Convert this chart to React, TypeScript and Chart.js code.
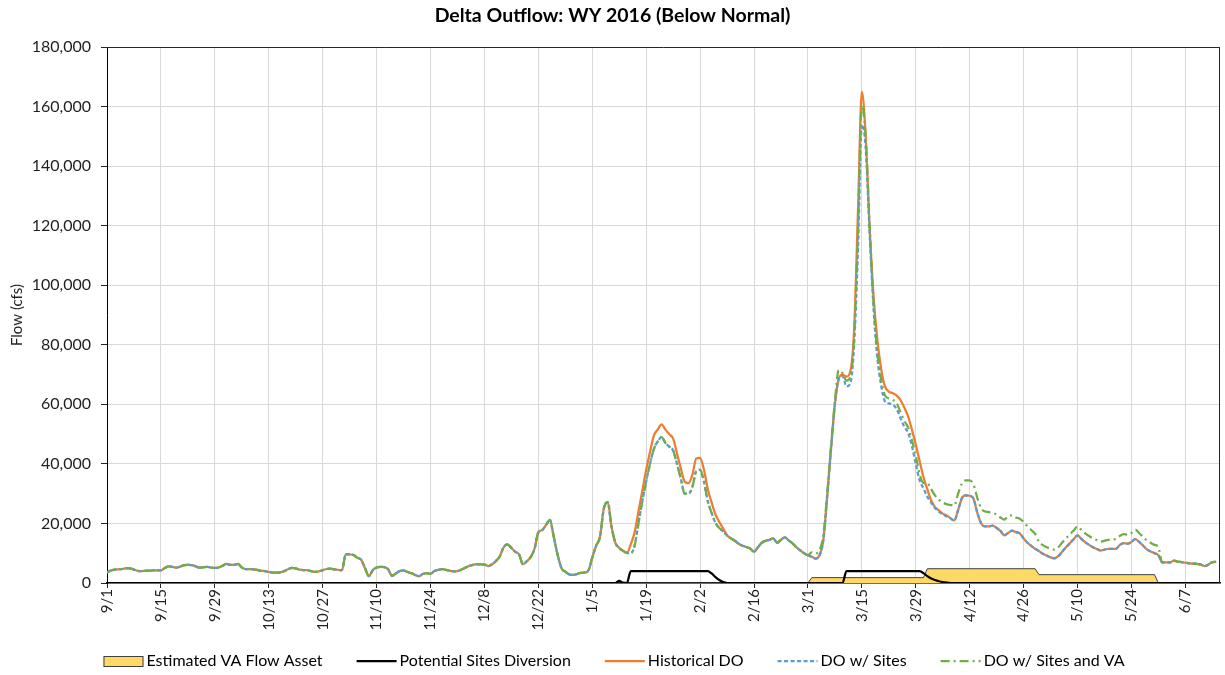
import React, { useEffect, useRef } from "react";
import { Chart, registerables } from "chart.js";

Chart.register(...registerables);

const chartTitle = "Delta Outflow: WY 2016 (Below Normal)";
const yAxisTitle = "Flow (cfs)";
const xTickLabels = ["9/1", "9/15", "9/29", "10/13", "10/27", "11/10", "11/24", "12/8", "12/22", "1/5", "1/19", "2/2", "2/16", "3/1", "3/15", "3/29", "4/12", "4/26", "5/10", "5/24", "6/7"];
const tickStepDays = 14;
const lastAxisDay = 289;
const yMax = 180000;
const yStep = 20000;

const seriesNames = ["Estimated VA Flow Asset", "Potential Sites Diversion", "Historical DO", "DO w/ Sites", "DO w/ Sites and VA"];

// daily values, day 0 = 9/1/2015
const historicalDO = [
  3500, 4200, 4500, 4600, 4700, 5000, 4900, 4500, 4100, 4000,
  4100, 4150, 4200, 4200, 4250, 5000, 5600, 5400, 5150, 5500,
  6000, 6050, 6000, 5600, 5150, 5300, 5400, 5200, 5050, 5200,
  5800, 6400, 6100, 6100, 6400, 5200, 4700, 4700, 4600, 4400,
  4100, 4000, 3700, 3500, 3500, 3600, 4000, 4600, 5050, 4900,
  4500, 4350, 4300, 4000, 3700, 3900, 4300, 4700, 4800, 4600,
  4400, 4300, 9700, 9600, 9400, 8500, 7800, 5000, 2300, 4300,
  5200, 5400, 5300, 4600, 2400, 3200, 4000, 4200, 3700, 3300,
  2700, 2300, 3000, 3300, 3100, 4000, 4400, 4700, 4400, 4100,
  3900, 4000, 4500, 5100, 5700, 6100, 6300, 6250, 6200, 5700,
  6300, 7400, 9000, 12000, 13000, 11800, 10500, 9600, 6300, 7300,
  8700, 11500, 17000, 17800, 19500, 21200, 15500, 9500, 5000, 3800,
  2900, 2700, 3000, 3400, 3500, 4200, 8500, 12500, 15500, 25000,
  27200, 19000, 13500, 11800, 10800, 10100, 13000, 17000, 24000, 31000,
  38000, 44000, 49500, 51500, 53300, 51500, 50000, 48500, 43500, 38500,
  34000, 33500, 36300, 41800, 42000, 38000, 31500, 27000, 23000, 20500,
  18300, 16000, 15000, 14200, 13200, 12500, 12100, 11600, 10500, 12000,
  13500, 14200, 14500, 15000, 13500, 14500, 15300, 14300, 13300, 12000,
  11000, 10000, 9300, 8800, 8200, 9300, 14400, 29000, 45000, 60000,
  68500, 70000, 69300, 71000, 85000, 125000, 165000, 150000, 120000, 97000,
  82000, 72000, 66000, 64300, 63800, 63000, 61500, 59000, 56000, 51500,
  46500, 41000, 35600, 31500, 27800, 25500, 24400, 23300, 22700, 21800,
  21000, 24500, 28500, 29400, 29300, 28300, 23500, 20000, 19000, 19000,
  19300, 18500, 17500, 16000, 16800, 17600, 17100, 16700, 15000, 13500,
  12500, 11500, 10700, 9800, 9200, 8600, 8300, 9000, 10500, 12000,
  13300, 14700, 16000, 14800, 13700, 12800, 12000, 11400, 10900, 11200,
  11500, 11500, 11500, 12800, 13400, 13200, 13800, 14700, 13800, 12600,
  11300, 10600, 10000, 9300, 6900, 6900, 6900, 7500, 7200, 7000,
  6800, 6600, 6500, 6400, 6200, 5700, 6200, 7000, 7100,
];

const doWithSites = [
  3500, 4200, 4500, 4600, 4700, 5000, 4900, 4500, 4100, 4000,
  4100, 4150, 4200, 4200, 4250, 5000, 5600, 5400, 5150, 5500,
  6000, 6050, 6000, 5600, 5150, 5300, 5400, 5200, 5050, 5200,
  5800, 6400, 6100, 6100, 6400, 5200, 4700, 4700, 4600, 4400,
  4100, 4000, 3700, 3500, 3500, 3600, 4000, 4600, 5050, 4900,
  4500, 4350, 4300, 4000, 3700, 3900, 4300, 4700, 4800, 4600,
  4400, 4300, 9700, 9600, 9400, 8500, 7800, 5000, 2300, 4300,
  5200, 5400, 5300, 4600, 2400, 3200, 4000, 4200, 3700, 3300,
  2700, 2300, 3000, 3300, 3100, 4000, 4400, 4700, 4400, 4100,
  3900, 4000, 4500, 5100, 5700, 6100, 6300, 6250, 6200, 5700,
  6300, 7400, 9000, 12000, 13000, 11800, 10500, 9600, 6300, 7300,
  8700, 11500, 17000, 17800, 19500, 21200, 15500, 9500, 5000, 3800,
  2900, 2700, 3000, 3400, 3500, 4200, 8500, 12500, 15500, 25000,
  27200, 19000, 13500, 11800, 10800, 10100, 10000, 12500, 20000, 27500,
  34000, 40000, 45000, 47500, 49000, 47000, 45800, 44500, 40000, 35000,
  30000, 30000, 32300, 37500, 38000, 34000, 27500, 23500, 20200, 18500,
  17300, 16000, 15000, 14200, 13200, 12500, 12100, 11600, 10500, 12000,
  13500, 14200, 14500, 15000, 13500, 14500, 15300, 14300, 13300, 12000,
  11000, 10000, 9300, 8800, 8200, 9300, 14400, 29000, 45000, 60000,
  68500, 69500, 66000, 67000, 80000, 112000, 154000, 146000, 118000, 93000,
  76000, 66500, 61000, 60300, 59900, 58500, 55500, 52500, 50500, 46000,
  40000, 34500, 31800, 29000, 27000, 25200, 24000, 23100, 22400, 21700,
  21000, 24500, 28500, 29400, 29300, 28300, 23500, 20000, 19000, 19000,
  19300, 18500, 17500, 16000, 16800, 17600, 17100, 16700, 15000, 13500,
  12500, 11500, 10700, 9800, 9200, 8600, 8300, 9000, 10500, 12000,
  13300, 14700, 16000, 14800, 13700, 12800, 12000, 11400, 10900, 11200,
  11500, 11500, 11500, 12800, 13400, 13200, 13800, 14700, 13800, 12600,
  11300, 10600, 10000, 9300, 6900, 6900, 6900, 7500, 7200, 7000,
  6800, 6600, 6500, 6400, 6200, 5700, 6200, 7000, 7100,
];

const doWithSitesAndVA = [
  3500, 4200, 4500, 4600, 4700, 5000, 4900, 4500, 4100, 4000,
  4100, 4150, 4200, 4200, 4250, 5000, 5600, 5400, 5150, 5500,
  6000, 6050, 6000, 5600, 5150, 5300, 5400, 5200, 5050, 5200,
  5800, 6400, 6100, 6100, 6400, 5200, 4700, 4700, 4600, 4400,
  4100, 4000, 3700, 3500, 3500, 3600, 4000, 4600, 5050, 4900,
  4500, 4350, 4300, 4000, 3700, 3900, 4300, 4700, 4800, 4600,
  4400, 4300, 9700, 9600, 9400, 8500, 7800, 5000, 2300, 4300,
  5200, 5400, 5300, 4600, 2400, 3200, 4000, 4200, 3700, 3300,
  2700, 2300, 3000, 3300, 3100, 4000, 4400, 4700, 4400, 4100,
  3900, 4000, 4500, 5100, 5700, 6100, 6300, 6250, 6200, 5700,
  6300, 7400, 9000, 12000, 13000, 11800, 10500, 9600, 6300, 7300,
  8700, 11500, 17000, 17800, 19500, 21200, 15500, 9500, 5000, 3800,
  2900, 2700, 3000, 3400, 3500, 4200, 8500, 12500, 15500, 25000,
  27200, 19000, 13500, 11800, 10800, 10100, 10000, 12500, 20000, 27500,
  34000, 40000, 45000, 47500, 49000, 47000, 45800, 44500, 40000, 35000,
  30000, 30000, 32300, 37500, 38000, 34000, 27500, 23500, 20200, 18500,
  17300, 16000, 15000, 14200, 13200, 12500, 12100, 11600, 10500, 12000,
  13500, 14200, 14500, 15000, 13500, 14500, 15300, 14300, 13300, 12000,
  11000, 10000, 9300, 10300, 10000, 11000, 16000, 30000, 46000, 61000,
  71500, 70500, 68000, 69000, 83000, 118000, 160500, 150000, 121000, 95000,
  78000, 68500, 63000, 62000, 61500, 60500, 57500, 54500, 52300, 48000,
  42800, 36500, 33600, 33500, 31500, 29400, 28000, 27000, 26500, 26200,
  26000, 30000, 33500, 34500, 34500, 33000, 28500, 25000, 24000, 23800,
  23500, 23000, 22000, 21300, 22500, 22700, 22000, 21600, 20500, 19000,
  17800, 16500, 13800, 12700, 12000, 11500, 11200, 12000, 13500, 15000,
  16300, 17600, 19000, 17800, 16700, 15800, 15000, 14400, 13900, 14200,
  14500, 14600, 14800, 15800, 16400, 16200, 16800, 17900, 16800, 15500,
  14300, 13500, 12800, 12000, 6900, 6900, 6900, 7500, 7200, 7000,
  6800, 6600, 6500, 6400, 6200, 5700, 6200, 7000, 7100,
];

// sparse series: day index and value at each break point
const diversionDays = [0, 132, 133, 134, 135, 136, 156, 157, 158, 159, 160, 161, 191, 192, 211, 212, 213, 214, 215, 216, 217, 218, 219, 288];
const diversionValues = [0, 0, 700, 100, 0, 4000, 4000, 3200, 2000, 1000, 300, 0, 0, 4000, 4000, 3300, 2300, 1500, 1000, 600, 300, 100, 0, 0];

const vaDays = [0, 182, 183, 212, 213, 241, 242, 272, 273, 288];
const vaValues = [0, 0, 1800, 1800, 4800, 4800, 2800, 2800, 0, 0];

const FONT = "Lato, 'Open Sans', 'DejaVu Sans', sans-serif";
const TEXT = "#1f1f1f";

const daily = (vals: number[]) => vals.map((v, i) => ({ x: i, y: v }));
const paired = (days: number[], vals: number[]) => days.map((d, i) => ({ x: d, y: vals[i] }));
const isLabelDay = (v: number) => Math.abs(v / tickStepDays - Math.round(v / tickStepDays)) < 1e-6;

const decorPlugin = {
  id: "decor",
  beforeDatasetsDraw(chart: any) {
    const { ctx, chartArea } = chart;
    ctx.save();
    ctx.strokeStyle = "#262626";
    ctx.lineWidth = 1;
    ctx.beginPath();
    ctx.moveTo(chartArea.left, Math.round(chartArea.top) + 0.5);
    ctx.lineTo(chartArea.right, Math.round(chartArea.top) + 0.5);
    ctx.moveTo(Math.round(chartArea.right) - 0.5, chartArea.top);
    ctx.lineTo(Math.round(chartArea.right) - 0.5, chartArea.bottom);
    ctx.stroke();
    ctx.restore();
  },
  afterDraw(chart: any) {
    const { ctx } = chart;
    ctx.save();
    ctx.fillStyle = "#000";
    ctx.font = `bold 19.5px ${FONT}`;
    ctx.textAlign = "center";
    ctx.textBaseline = "middle";
    ctx.fillText(chartTitle, chart.width / 2, 16);

    // legend
    ctx.font = `16px ${FONT}`;
    const swatchW = 40;
    const textGap = 3;
    const itemGap = 34;
    const ds = chart.data.datasets;
    const widths = ds.map((d: any) => swatchW + textGap + ctx.measureText(d.label).width);
    const total = widths.reduce((a: number, b: number) => a + b, 0) + itemGap * (ds.length - 1);
    let x = 614 - total / 2;
    const y = 661;
    ds.forEach((d: any, i: number) => {
      if (d.fill) {
        ctx.fillStyle = d.backgroundColor;
        ctx.fillRect(x, y - 5, swatchW, 11);
        ctx.strokeStyle = d.borderColor;
        ctx.lineWidth = 1;
        ctx.setLineDash([]);
        ctx.strokeRect(x + 0.5, y - 4.5, swatchW - 1, 10);
      } else {
        ctx.strokeStyle = d.borderColor;
        ctx.lineWidth = d.borderWidth;
        ctx.setLineDash(d.borderDash || []);
        ctx.beginPath();
        ctx.moveTo(x, y);
        ctx.lineTo(x + swatchW, y);
        ctx.stroke();
        ctx.setLineDash([]);
      }
      ctx.fillStyle = "#000";
      ctx.textAlign = "left";
      ctx.fillText(d.label, x + swatchW + textGap, y);
      x += widths[i] + itemGap;
    });
    ctx.restore();
  },
};

export default function App() {
  const canvasRef = useRef<HTMLCanvasElement | null>(null);

  useEffect(() => {
    document.body.style.margin = "0";
    const canvas = canvasRef.current;
    if (!canvas) return;
    const lineBase = {
      type: "line" as const,
      fill: false,
      pointRadius: 0,
      pointHoverRadius: 0,
      borderWidth: 2.25,
      cubicInterpolationMode: "monotone" as const,
    };
    const chart = new Chart(canvas, {
      type: "line",
      data: {
        datasets: [
          {
            label: seriesNames[0],
            data: paired(vaDays, vaValues),
            type: "line",
            fill: "origin",
            backgroundColor: "#FFD966",
            borderColor: "#404040",
            borderWidth: 1,
            pointRadius: 0,
            tension: 0,
            order: 4,
          },
          {
            ...lineBase,
            label: seriesNames[1],
            data: paired(diversionDays, diversionValues),
            borderColor: "#000000",
            backgroundColor: "#000000",
            order: 3,
          },
          {
            ...lineBase,
            label: seriesNames[2],
            data: daily(historicalDO),
            borderColor: "#ED7D31",
            backgroundColor: "#ED7D31",
            order: 2,
          },
          {
            ...lineBase,
            label: seriesNames[3],
            data: daily(doWithSites),
            borderColor: "#5B9BD5",
            backgroundColor: "#5B9BD5",
            borderDash: [4, 2.5],
            order: 1,
          },
          {
            ...lineBase,
            label: seriesNames[4],
            data: daily(doWithSitesAndVA),
            borderColor: "#70AD47",
            backgroundColor: "#70AD47",
            borderDash: [9, 4, 2, 4],
            order: 0,
          },
        ] as any,
      },
      options: {
        responsive: false,
        devicePixelRatio: 1,
        animation: false,
        events: [],
        layout: { padding: { top: 47, left: 0, right: 5, bottom: 32 } },
        plugins: {
          legend: { display: false },
          title: { display: false },
          tooltip: { enabled: false },
        },
        scales: {
          x: {
            type: "linear",
            min: 0,
            max: lastAxisDay,
            afterFit: (s: any) => {
              s.height = 60;
            },
            afterBuildTicks: (s: any) => {
              s.ticks = xTickLabels.map((_, i) => ({ value: i * tickStepDays }));
            },
            ticks: {
              autoSkip: false,
              maxRotation: 90,
              minRotation: 90,
              padding: 1,
              color: TEXT,
              font: { family: FONT, size: 15 },
              callback: (v: any) => (isLabelDay(Number(v)) ? xTickLabels[Math.round(Number(v) / tickStepDays)] ?? "" : ""),
            },
            grid: {
              color: (c: any) => (c.tick && isLabelDay(c.tick.value) ? "#D9D9D9" : "rgba(0,0,0,0)"),
              lineWidth: 1,
              tickLength: 5,
              tickColor: (c: any) => (c.tick && isLabelDay(c.tick.value) ? "#262626" : "rgba(0,0,0,0)"),
            },
            border: { color: "#000", width: 1.5 },
          },
          y: {
            type: "linear",
            min: 0,
            max: yMax,
            afterFit: (s: any) => {
              s.width = 107;
            },
            ticks: {
              stepSize: yStep,
              padding: 10,
              color: TEXT,
              font: { family: FONT, size: 16 },
              callback: (v: any) => Number(v).toLocaleString("en-US"),
            },
            grid: {
              color: "#D9D9D9",
              lineWidth: 1,
              tickLength: 6,
              tickColor: "#262626",
            },
            border: { color: "#000", width: 1 },
            title: {
              display: true,
              text: yAxisTitle,
              color: TEXT,
              font: { family: FONT, size: 15 },
              padding: { top: 8, bottom: 0 },
            },
          },
        },
      },
      plugins: [decorPlugin],
    });
    return () => chart.destroy();
  }, []);

  return (
    <div style={{ position: "fixed", left: 0, top: 0, width: 1225, height: 675, background: "#fff" }}>
      <canvas ref={canvasRef} width={1225} height={675} style={{ width: 1225, height: 675, display: "block" }} />
    </div>
  );
}
